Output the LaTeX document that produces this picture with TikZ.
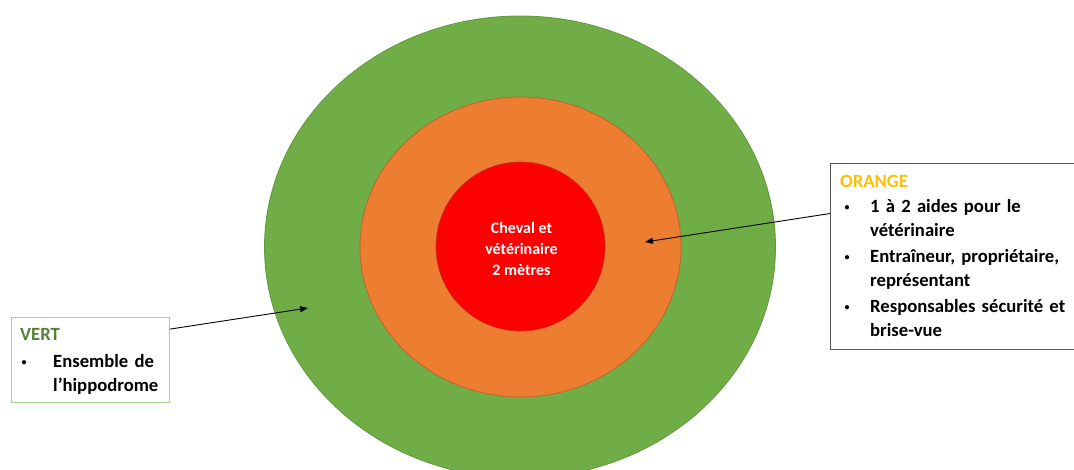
\documentclass[tikz,border=0pt]{standalone}
\usepackage{fontspec}
\setmainfont{Carlito}
\usetikzlibrary{shapes.geometric,arrows.meta,calc}
\definecolor{vgreen}{HTML}{70AD47}
\definecolor{vgreenline}{HTML}{5E9A3A}
\definecolor{vorange}{HTML}{ED7D31}
\definecolor{vorangeline}{HTML}{C0622A}
\definecolor{vred}{HTML}{FF0000}
\definecolor{vredline}{HTML}{C03020}
\definecolor{vertbord}{HTML}{A9D18E}
\definecolor{orangebord}{HTML}{595959}
\definecolor{verttitle}{HTML}{548235}
\definecolor{orangetitle}{HTML}{FFC000}
\newcommand{\bulletdot}{\raisebox{1.6pt}{\fontsize{10}{10}\selectfont •}}
\newcommand{\bitem}[3]{\par\hangindent=#1\hangafter=0\noindent\llap{\makebox[#1][l]{\hspace{\dimexpr#2-2pt\relax}\bulletdot}}#3}
\tikzset{
  zone/.style={ellipse, inner sep=0pt, line width=0.8pt},
  listbox/.style={rectangle, fill=white, line width=1.2pt, inner sep=0pt},
  listtext/.style={inner sep=0pt, font=\bfseries\fontsize{18.67}{24}\selectfont},
  centertext/.style={inner sep=0pt, align=center, text=white, font=\bfseries\fontsize{16}{21}\selectfont},
  pointer/.style={line width=0.9pt, -{Triangle[length=8pt,width=6pt]}}
}
\begin{document}
\begin{tikzpicture}[x=1pt,y=-1pt]
\useasboundingbox (0,0) rectangle (1074,470);
\clip (0,0) rectangle (1074,470);
\fill[white] (0,0) rectangle (1074,470);
% zones
\node[zone, fill=vgreen, draw=vgreenline, minimum width=511pt, minimum height=462pt] (green) at (520,247) {};
\node[zone, fill=vorange, draw=vorangeline, minimum width=321pt, minimum height=300pt] (orange) at (520.5,247) {};
\node[circle, inner sep=0pt, fill=vred, draw=vredline, line width=0.6pt, minimum size=169pt] (red) at (520.5,246.5) {};
\node[centertext] (redtext) at (521.5,248.5) {Cheval et\\vétérinaire\\2 mètres};
% boxes
\node[listbox, draw=vertbord, anchor=north west, minimum width=158pt, minimum height=85pt] (vertbox) at (11,317) {};
\node[listbox, draw=orangebord, anchor=north west, minimum width=270pt, minimum height=186pt] (orangebox) at (830,163) {};
\node[listtext, anchor=north west, text width=150pt] (verttext) at (20,323)
  {\raggedright{\color{verttitle}\rule{0pt}{17pt}VERT}\par\vspace{3pt}%
   \bitem{33pt}{3.3pt}{Ensemble de\newline l’hippodrome}\par};
\node[listtext, anchor=north west, text width=232pt] (orangetext) at (840,170)
  {\raggedright{\color{orangetitle}\rule{0pt}{17pt}ORANGE}\par\vspace{1pt}%
   \bitem{30pt}{6.5pt}{1 à 2 aides pour le\newline vétérinaire}\par\vspace{2pt}%
   \bitem{30pt}{6.5pt}{Entraîneur, propriétaire,\newline représentant}\par\vspace{2pt}%
   \bitem{30pt}{6.5pt}{Responsables sécurité et\newline brise-vue}\par};
% connectors
\coordinate (vertstart) at ($(vertbox.north east)!0.14!(vertbox.south east)$);
\coordinate (vertend) at (308,308);
\coordinate (orangestart) at ($(orangebox.north west)!0.27!(orangebox.south west)$);
\coordinate (orangeend) at (645,242);
\draw[pointer] (vertstart) -- (vertend);
\draw[pointer] (orangestart) -- (orangeend);
\end{tikzpicture}
\end{document}
